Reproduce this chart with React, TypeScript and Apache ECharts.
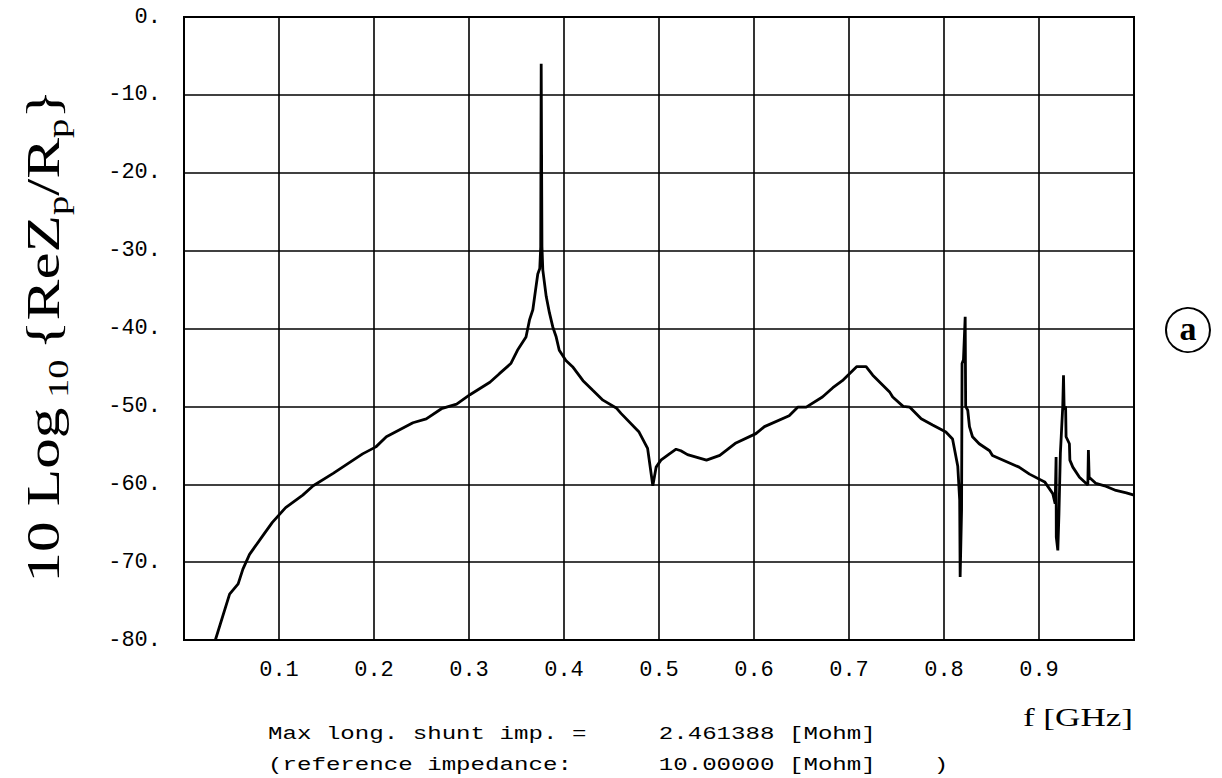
import React, { useEffect, useRef } from "react";
import * as echarts from "echarts";

// Frequency (GHz) and normalized impedance level 10*log10(ReZp/Rp)
const freqGHz = [
  0.033, 0.048, 0.057, 0.062, 0.069, 0.083, 0.093, 0.107, 0.125, 0.136,
  0.157, 0.188, 0.202, 0.213, 0.241, 0.255, 0.271, 0.287, 0.301, 0.322,
  0.332, 0.344, 0.351, 0.360, 0.3637, 0.3672, 0.370, 0.3724, 0.3745, 0.3755,
  0.376, 0.3768, 0.3777, 0.3813, 0.3847, 0.3882, 0.3918, 0.395, 0.402, 0.409,
  0.420, 0.430, 0.441, 0.455, 0.460, 0.479, 0.488, 0.4935, 0.497, 0.502,
  0.511, 0.518, 0.523, 0.530, 0.550, 0.564, 0.581, 0.602, 0.611, 0.637,
  0.646, 0.655, 0.672, 0.683, 0.693, 0.708, 0.718, 0.725, 0.743, 0.746,
  0.757, 0.764, 0.776, 0.788, 0.802, 0.809, 0.8145, 0.8165, 0.817, 0.8185,
  0.819, 0.8205, 0.8223, 0.8228, 0.825, 0.8268, 0.830, 0.837, 0.848, 0.851,
  0.879, 0.890, 0.906, 0.9145, 0.917, 0.918, 0.9182, 0.9198, 0.921, 0.9225,
  0.9234, 0.925, 0.9258, 0.9265, 0.928, 0.9285, 0.932, 0.9325, 0.9356, 0.9426,
  0.9514, 0.952, 0.9528, 0.960, 0.969, 0.981, 0.992, 1.0,
];
const levelDb = [
  -80.0, -74.1, -72.8, -70.9, -69.0, -66.6, -64.9, -63.0, -61.4, -60.2,
  -58.6, -56.1, -55.2, -53.9, -52.1, -51.6, -50.3, -49.7, -48.5, -46.9,
  -45.8, -44.5, -42.8, -41.1, -38.9, -37.6, -35.1, -33.0, -32.3, -29.5,
  -6.0, -29.5, -32.5, -35.9, -38.0, -39.8, -41.1, -42.8, -44.1, -44.9,
  -46.7, -47.9, -49.2, -50.2, -50.9, -53.3, -55.4, -60.2, -57.8, -56.9,
  -56.1, -55.5, -55.7, -56.2, -56.9, -56.3, -54.7, -53.5, -52.6, -51.2,
  -50.1, -50.1, -48.8, -47.6, -46.7, -44.9, -44.9, -46.0, -48.2, -48.8,
  -50.0, -50.1, -51.6, -52.4, -53.3, -54.2, -57.7, -62.0, -71.9, -63.3,
  -44.5, -44.0, -38.5, -50.0, -50.5, -52.6, -53.9, -54.8, -55.7, -56.3,
  -57.8, -58.7, -59.7, -61.2, -62.5, -56.5, -66.8, -68.5, -63.8, -56.0,
  -53.9, -50.0, -46.0, -50.5, -50.0, -53.9, -54.8, -56.9, -57.8, -59.1,
  -60.1, -55.6, -59.1, -59.9, -60.2, -60.8, -61.1, -61.4,
];

const xMin = 0;
const xMax = 1;
const xStep = 0.1;
const yMin = -80;
const yMax = 0;
const yStep = 10;

const maxImpText = "Max long. shunt imp. =     2.461388 [Mohm]";
const refImpText = "(reference impedance:      10.00000 [Mohm]    )";
const xAxisTitle = "f [GHz]";
const panelLabel = "a";

const MONO = "'Liberation Mono', 'DejaVu Sans Mono', monospace";
const SERIF = "'Liberation Serif', 'DejaVu Serif', serif";

export default function App() {
  const ref = useRef<HTMLDivElement>(null);

  useEffect(() => {
    if (!ref.current) return;
    const chart = echarts.init(ref.current, null, { renderer: "svg" });
    const data = freqGHz.map((f, i) => [f, levelDb[i]]);

    chart.setOption({
      animation: false,
      backgroundColor: "#fff",
      grid: {
        left: 184,
        top: 17,
        width: 950,
        height: 623,
        show: true,
        borderColor: "#000",
        borderWidth: 2,
        backgroundColor: "transparent",
      },
      xAxis: {
        type: "value",
        min: xMin,
        max: xMax,
        interval: xStep,
        axisLine: { show: false },
        axisTick: { show: false },
        splitLine: { show: true, lineStyle: { color: "#000", width: 1.6 } },
        axisLabel: {
          margin: 19,
          fontFamily: MONO,
          fontSize: 22,
          color: "#000",
          showMinLabel: false,
          showMaxLabel: false,
          formatter: (v: number) =>
            v <= xMin + 1e-6 || v >= xMax - 1e-6 ? "" : v.toFixed(1),
        },
      },
      yAxis: {
        type: "value",
        min: yMin,
        max: yMax,
        interval: yStep,
        axisLine: { show: false },
        axisTick: { show: false },
        splitLine: { show: true, lineStyle: { color: "#000", width: 1.6 } },
        axisLabel: {
          margin: 23,
          fontFamily: MONO,
          fontSize: 22,
          color: "#000",
          formatter: (v: number) => `${Math.round(v)}.`,
        },
      },
      series: [
        {
          type: "line",
          data,
          showSymbol: false,
          symbol: "none",
          clip: true,
          lineStyle: { color: "#000", width: 2.8 },
        },
      ],
      graphic: [
        {
          type: "text",
          x: 44,
          y: 336,
          rotation: Math.PI / 2,
          scaleX: 1.33,
          style: {
            text: "{b|10 Log}{s| 10 }{b|{ReZ}{s|p}{b|/R}{s|p}}",
            align: "center",
            verticalAlign: "middle",
            fontFamily: SERIF,
            fontSize: 46,
            fontWeight: "normal",
            fill: "#000",
            rich: {
              b: {
                fontFamily: SERIF,
                fontSize: 46,
                fontWeight: "normal",
                lineHeight: 58,
                verticalAlign: "middle",
              },
              s: {
                fontFamily: SERIF,
                fontSize: 29,
                fontWeight: "normal",
                lineHeight: 24,
                verticalAlign: "bottom",
              },
            },
          },
        },
        {
          type: "text",
          x: 1133,
          y: 717,
          scaleX: 1.35,
          style: {
            text: xAxisTitle,
            align: "right",
            verticalAlign: "middle",
            fontFamily: SERIF,
            fontSize: 26,
            fill: "#000",
          },
        },
        {
          type: "text",
          x: 268,
          y: 734,
          scaleX: 1.27,
          style: {
            text: maxImpText,
            align: "left",
            verticalAlign: "middle",
            fontFamily: MONO,
            fontSize: 19,
            fill: "#000",
          },
        },
        {
          type: "text",
          x: 268,
          y: 765,
          scaleX: 1.27,
          style: {
            text: refImpText,
            align: "left",
            verticalAlign: "middle",
            fontFamily: MONO,
            fontSize: 19,
            fill: "#000",
          },
        },
        {
          type: "circle",
          shape: { cx: 1188, cy: 330, r: 22 },
          style: { fill: "#fff", stroke: "#000", lineWidth: 2 },
        },
        {
          type: "text",
          x: 1188,
          y: 328,
          style: {
            text: panelLabel,
            align: "center",
            verticalAlign: "middle",
            fontFamily: SERIF,
            fontSize: 34,
            fontWeight: "bold",
            fill: "#000",
          },
        },
      ],
    });

    return () => chart.dispose();
  }, []);

  return (
    <div
      ref={ref}
      style={{
        position: "absolute",
        left: 0,
        top: 0,
        width: 1222,
        height: 778,
        background: "#fff",
      }}
    />
  );
}
